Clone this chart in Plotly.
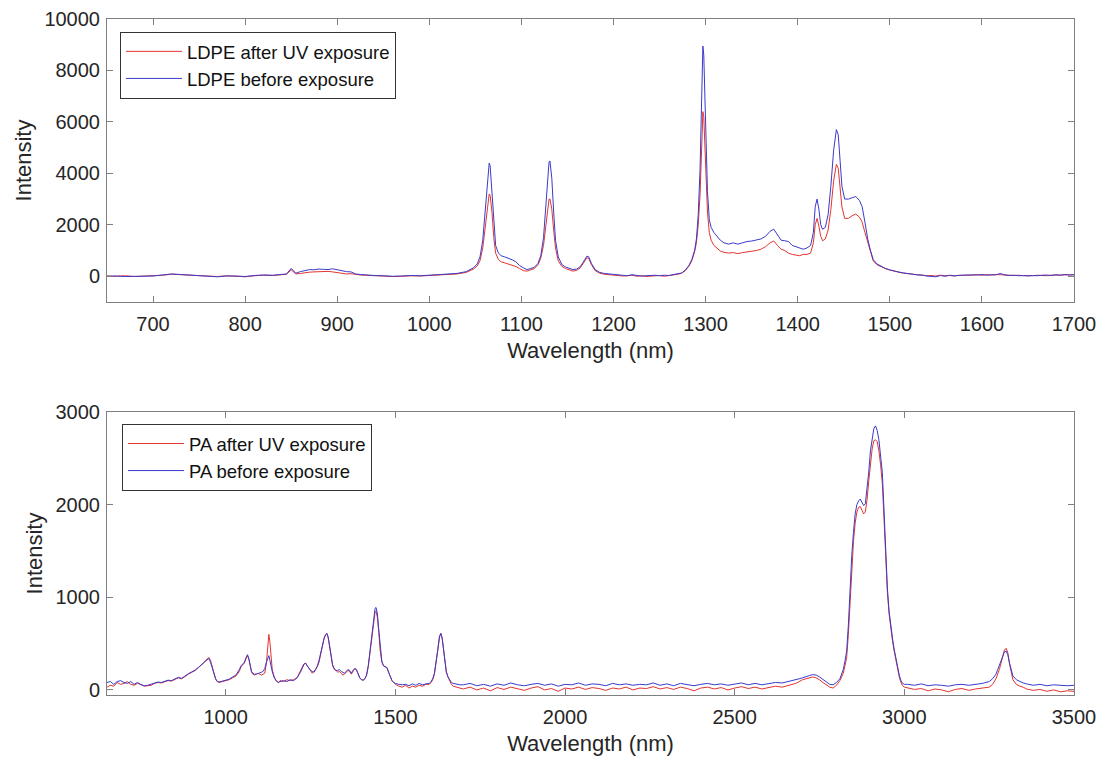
import plotly.graph_objects as go

# ---------------- LDPE (top panel) ----------------
ldpe_wl = [
    650, 660, 670, 680, 690, 700, 710, 720, 730, 740,
    750, 760, 770, 780, 790, 800, 810, 820, 830, 840,
    845, 850, 855, 860, 865, 870, 875, 880, 885, 890,
    895, 900, 905, 910, 915, 920, 925, 930, 935, 940,
    950, 960, 970, 980, 990, 1000, 1010, 1020, 1030, 1040,
    1044, 1048, 1052, 1055, 1058, 1060, 1062, 1064, 1065, 1066,
    1068, 1070, 1072, 1075, 1078, 1082, 1086, 1090, 1094, 1098,
    1102, 1106, 1110, 1114, 1118, 1121, 1124, 1126, 1128, 1130,
    1131, 1133, 1135, 1137, 1140, 1144, 1148, 1152, 1156, 1160,
    1164, 1168, 1171, 1173, 1176, 1180, 1185, 1190, 1195, 1200,
    1205, 1210, 1215, 1220, 1225, 1230, 1235, 1240, 1245, 1250,
    1255, 1260, 1265, 1270, 1274, 1278, 1282, 1285, 1288, 1290,
    1292, 1294, 1296, 1297, 1298, 1300, 1302, 1304, 1306, 1309,
    1312, 1316, 1320, 1325, 1330, 1335, 1340, 1345, 1350, 1355,
    1360, 1365, 1370, 1374, 1378, 1382, 1386, 1390, 1394, 1398,
    1402, 1406, 1410, 1414, 1417, 1419, 1421, 1423, 1425, 1427,
    1430, 1433, 1436, 1439, 1442, 1444, 1446, 1448, 1451, 1455,
    1459, 1463, 1467, 1470, 1473, 1476, 1479, 1482, 1486, 1490,
    1495, 1500, 1505, 1510, 1515, 1520, 1525, 1530, 1535, 1540,
    1545, 1550, 1555, 1560, 1565, 1570, 1575, 1580, 1585, 1590,
    1595, 1600, 1605, 1610, 1615, 1620, 1625, 1630, 1635, 1640,
    1645, 1650, 1655, 1660, 1665, 1670, 1675, 1680, 1685, 1690,
    1695, 1700,
]
ldpe_after = [
    10, 0, 20, -10, 5, 15, 40, 80, 60, 50,
    30, 10, -10, 20, 0, -20, 20, 40, 30, 60,
    80, 250, 90, 110, 140, 160, 170, 180, 170, 190,
    170, 150, 130, 90, 100, 60, 50, 40, 30, 20,
    10, -10, 0, 20, 10, 30, 40, 60, 90, 150,
    200, 280, 400, 600, 1100, 1700, 2500, 3100, 3200, 3150,
    2500, 1500, 900, 650, 560, 520, 480, 430, 380, 300,
    220, 200, 250, 300, 450, 700, 1200, 1800, 2500, 3000,
    3000, 2600, 1800, 1100, 600, 380, 300, 250, 200, 230,
    330, 550, 720, 700, 450, 220, 120, 80, 60, 50,
    30, 10, 20, 40, 0, 20, -10, 10, 20, 30,
    0, 20, 50, 80, 120, 220, 400, 600, 950, 1300,
    2000, 3200, 5300, 6400, 6200, 4500, 2500, 1700, 1400, 1200,
    1100, 980, 930, 900, 920, 880, 920, 950, 960, 1000,
    1050, 1150, 1300, 1370, 1200, 1050, 1000, 900, 850, 820,
    800, 850, 850, 900, 1300, 2000, 2250, 1950, 1550, 1380,
    1450, 1800, 2600, 3700, 4350, 4200, 3500, 2700, 2250, 2250,
    2350, 2420, 2300, 2100, 1700, 1300, 900, 600, 450, 380,
    300, 240, 200, 150, 120, 100, 70, 60, 40, 20,
    30, 10, 40, 20, 30, 10, 40, 30, 50, 40,
    60, 40, 60, 50, 70, 60, 40, 50, 30, 40,
    20, 30, 20, 40, 30, 20, 40, 50, 60, 50,
    70, 60,
]
ldpe_before = [
    0, 10, -10, 0, 20, 10, 50, 90, 70, 40,
    20, 0, -20, 10, 10, -10, 30, 50, 40, 70,
    90, 310, 120, 180, 230, 260, 250, 280, 270, 260,
    290, 250, 220, 180, 170, 90, 70, 50, 40, 30,
    20, 0, 10, 30, 20, 40, 50, 70, 110, 180,
    240, 330, 480, 750, 1400, 2300, 3400, 4200, 4400, 4300,
    3300, 2000, 1200, 900, 800, 750, 700, 640, 560, 420,
    330, 260, 300, 350, 500, 800, 1500, 2400, 3500, 4450,
    4480, 3800, 2500, 1400, 750, 450, 360, 300, 260, 280,
    380, 600, 780, 760, 500, 260, 150, 110, 90, 60,
    50, 40, 20, 60, 30, 10, 20, 30, 40, 20,
    40, 30, 60, 90, 130, 240, 430, 650, 1000, 1450,
    2400, 4200, 7500, 8950, 8600, 6000, 3300, 2200, 1900, 1700,
    1550, 1400, 1300, 1250, 1300, 1250, 1300, 1350, 1370, 1400,
    1450, 1550, 1750, 1830, 1600, 1400, 1380, 1350, 1200, 1150,
    1100, 1050, 1100, 1200, 1700, 2700, 3000, 2600, 2000, 1830,
    1900, 2400, 3500, 4900, 5700, 5500, 4500, 3500, 3000, 3000,
    3050, 3100, 2950, 2700, 2100, 1450, 1000, 650, 480, 390,
    310, 250, 200, 160, 130, 90, 80, 50, 50, 10,
    0, -20, 30, 0, 40, 20, 30, 50, 40, 60,
    50, 70, 40, 60, 50, 110, 50, 30, 40, 20,
    30, 10, 30, 20, 40, 50, 30, 60, 40, 70,
    50, 60,
]

# ---------------- PA (bottom panel) ----------------
pa_wl = [
    650, 660, 670, 680, 690, 700, 710, 720, 730, 740,
    750, 760, 770, 780, 790, 800, 810, 820, 830, 840,
    850, 860, 870, 880, 890, 900, 910, 920, 930, 940,
    945, 950, 955, 960, 965, 970, 975, 980, 990, 1000,
    1010, 1020, 1030, 1040, 1045, 1050, 1055, 1060, 1064, 1068,
    1072, 1076, 1080, 1085, 1090, 1095, 1100, 1105, 1110, 1115,
    1120, 1124, 1127, 1130, 1133, 1137, 1142, 1148, 1155, 1160,
    1170, 1180, 1190, 1200, 1210, 1220, 1230, 1235, 1240, 1245,
    1250, 1255, 1260, 1265, 1270, 1275, 1280, 1285, 1290, 1295,
    1298, 1302, 1306, 1310, 1315, 1320, 1325, 1330, 1335, 1340,
    1345, 1350, 1355, 1360, 1365, 1370, 1375, 1380, 1385, 1390,
    1395, 1400, 1405, 1410, 1415, 1420, 1425, 1430, 1435, 1440,
    1443, 1447, 1451, 1455, 1460, 1465, 1470, 1475, 1480, 1485,
    1490, 1495, 1500, 1510, 1520, 1530, 1540, 1550, 1560, 1570,
    1580, 1590, 1600, 1605, 1610, 1615, 1620, 1625, 1630, 1634,
    1638, 1642, 1646, 1650, 1655, 1660, 1665, 1670, 1680, 1690,
    1700, 1720, 1740, 1760, 1780, 1800, 1820, 1840, 1860, 1880,
    1900, 1920, 1940, 1960, 1980, 2000, 2020, 2040, 2060, 2080,
    2100, 2120, 2140, 2160, 2180, 2200, 2220, 2240, 2260, 2280,
    2300, 2320, 2340, 2360, 2380, 2400, 2420, 2440, 2460, 2480,
    2500, 2520, 2540, 2560, 2580, 2600, 2620, 2640, 2660, 2680,
    2690, 2700, 2710, 2720, 2730, 2740, 2750, 2760, 2770, 2780,
    2790, 2800, 2810, 2820, 2825, 2830, 2835, 2840, 2845, 2850,
    2855, 2860, 2865, 2870, 2875, 2880, 2885, 2890, 2895, 2900,
    2905, 2910, 2915, 2920, 2925, 2930, 2935, 2940, 2945, 2950,
    2955, 2960, 2965, 2970, 2975, 2980, 2985, 2990, 2995, 3000,
    3010, 3030, 3050, 3070, 3090, 3110, 3130, 3150, 3170, 3190,
    3210, 3230, 3250, 3260, 3270, 3280, 3290, 3295, 3300, 3305,
    3310, 3315, 3320, 3330, 3340, 3350, 3360, 3380, 3400, 3420,
    3440, 3460, 3480, 3500,
]
pa_after = [
    30, 50, 40, 80, 60, 70, 90, 60, 50, 70,
    60, 40, 45, 50, 70, 80, 75, 90, 100, 95,
    110, 130, 120, 150, 170, 190, 210, 240, 280, 320,
    340, 350, 320, 250, 170, 120, 90, 80, 90, 100,
    110, 130, 150, 200, 250, 270, 290, 340, 370, 330,
    250, 190, 170, 160, 170, 180, 170, 160, 170, 180,
    300, 500, 600, 520, 350, 220, 150, 100, 80, 100,
    90, 110, 100, 110, 130, 200, 280, 290, 260, 230,
    210, 180, 200, 220, 250, 300, 380, 470, 560, 600,
    610, 560, 460, 350, 260, 220, 210, 190, 200, 180,
    160, 170, 190, 210, 200, 170, 200, 230, 220, 170,
    130, 110, 105, 120, 160, 250, 400, 580, 740, 840,
    850, 780, 620, 430, 300, 260, 250, 240, 190, 140,
    100, 80, 60, 40, 30, 50, 20, 40, 30, 50,
    40, 60, 60, 80, 110, 170, 280, 430, 570, 610,
    560, 440, 300, 200, 140, 90, 60, 40, 30, 20,
    10, 30, 0, 20, -10, 25, 5, 30, 10, -5,
    20, 35, 0, 15, -15, 20, 10, 30, 5, 25,
    15, -5, 20, 10, 30, 0, 20, 15, 35, 10,
    25, 5, 30, 15, -10, 20, 30, 10, 25, 0,
    20, 35, 15, 30, 10, 25, 40, 30, 50, 70,
    90, 110, 120, 130, 140, 130, 110, 80, 50, 30,
    20, 50, 100, 180, 260, 350, 600, 950, 1300, 1600,
    1800, 1920, 1970, 1980, 1940, 1900, 1920, 2050, 2250, 2450,
    2600, 2690, 2700, 2680, 2580, 2430, 2230, 1850, 1420, 1050,
    820, 650, 530, 420, 320, 220, 140, 80, 45, 30,
    20, 5, 15, -10, 10, 0, -20, 5, 15, -5,
    10, 20, 30, 60, 120, 220, 350, 430, 450, 400,
    280, 180, 110, 60, 40, 30, 10, -5, 5, -15,
    0, -20, -10, -15,
]
pa_before = [
    80, 90, 60, 90, 100, 80, 70, 90, 60, 80,
    55, 45, 50, 60, 75, 85, 80, 95, 105, 100,
    115, 135, 125, 155, 175, 195, 215, 245, 275, 310,
    330, 340, 300, 240, 170, 120, 90, 85, 95, 105,
    115, 140, 160, 220, 260, 280, 300, 350, 380, 340,
    260, 200, 180, 170, 170, 175, 180, 190, 200, 230,
    300, 350, 370, 320, 250, 200, 140, 100, 80, 90,
    100, 90, 110, 100, 130, 190, 270, 290, 260, 230,
    210, 200, 190, 220, 260, 320, 400, 480, 560, 600,
    610, 570, 470, 360, 270, 230, 210, 210, 220, 200,
    190, 180, 200, 220, 210, 180, 210, 230, 220, 170,
    130, 110, 105, 120, 160, 260, 420, 610, 780, 880,
    890, 820, 650, 460, 310, 260, 250, 240, 190, 140,
    100, 80, 70, 60, 55, 60, 45, 65, 50, 70,
    55, 65, 70, 90, 120, 180, 290, 440, 580, 610,
    550, 420, 280, 190, 140, 110, 80, 70, 60, 55,
    55, 70, 45, 60, 40, 65, 50, 75, 55, 45,
    60, 70, 50, 65, 40, 60, 55, 75, 50, 65,
    60, 45, 70, 55, 65, 50, 60, 55, 75, 50,
    65, 45, 70, 60, 45, 60, 70, 55, 65, 50,
    60, 75, 55, 70, 55, 65, 80, 75, 90, 110,
    120, 130, 145, 155, 165, 160, 140, 110, 80, 60,
    55, 80, 120, 220, 310, 420, 700, 1100, 1450, 1700,
    1900, 2000, 2040, 2060, 2030, 1990, 2010, 2150, 2350, 2580,
    2720, 2820, 2850, 2800, 2700, 2550, 2350, 1950, 1500, 1100,
    850, 680, 560, 440, 340, 240, 160, 100, 70, 60,
    60, 50, 65, 45, 55, 50, 40, 55, 60, 50,
    60, 70, 90, 120, 170, 260, 370, 410, 420, 380,
    290, 210, 150, 110, 90, 75, 65, 50, 60, 45,
    55, 50, 45, 50,
]

top_xticks = [700, 800, 900, 1000, 1100, 1200, 1300, 1400, 1500, 1600, 1700]
top_yticks = [0, 2000, 4000, 6000, 8000, 10000]
bot_xticks = [1000, 1500, 2000, 2500, 3000, 3500]
bot_yticks = [0, 1000, 2000, 3000]

assert len(ldpe_wl) == len(ldpe_after) == len(ldpe_before)
assert len(pa_wl) == len(pa_after) == len(pa_before)

RED = '#e3342f'
BLUE = '#3a3acb'
FONT = 'Liberation Sans, Arial, Helvetica, sans-serif'
TXT = '#262626'
FRAME = '#7f7f7f'

fig = go.Figure()
fig.add_trace(go.Scatter(x=ldpe_wl, y=ldpe_after, mode='lines', name='LDPE after UV exposure',
                         line=dict(color=RED, width=1), xaxis='x', yaxis='y', legend='legend'))
fig.add_trace(go.Scatter(x=ldpe_wl, y=ldpe_before, mode='lines', name='LDPE before exposure',
                         line=dict(color=BLUE, width=1), xaxis='x', yaxis='y', legend='legend'))
fig.add_trace(go.Scatter(x=pa_wl, y=pa_after, mode='lines', name='PA after UV exposure',
                         line=dict(color=RED, width=1), xaxis='x2', yaxis='y2', legend='legend2'))
fig.add_trace(go.Scatter(x=pa_wl, y=pa_before, mode='lines', name='PA before exposure',
                         line=dict(color=BLUE, width=1), xaxis='x2', yaxis='y2', legend='legend2'))

ax = dict(showline=True, linecolor=FRAME, linewidth=1, mirror='ticks', ticks='inside',
          ticklen=6, tickcolor=FRAME, tickwidth=1, showgrid=False, zeroline=False,
          automargin=False,
          tickfont=dict(size=20, color=TXT, family=FONT),
          title_font=dict(size=22, color=TXT, family=FONT))

fig.update_layout(
    width=1103, height=763,
    margin=dict(l=107, r=29, t=19, b=68),
    paper_bgcolor='white', plot_bgcolor='white',
    font=dict(family=FONT, color=TXT),
    xaxis=dict(ax, domain=[0, 1], anchor='y', range=[650, 1700], tickvals=top_xticks,
               ticktext=[str(v) for v in top_xticks],
               ticklabelstandoff=4, title=dict(text='Wavelength (nm)', standoff=8)),
    yaxis=dict(ax, domain=[0.58136, 1], anchor='x', range=[-1000, 10000], tickvals=top_yticks,
               ticktext=[str(v) for v in top_yticks],
               ticklabelstandoff=2, title=dict(text='Intensity', standoff=6)),
    xaxis2=dict(ax, domain=[0, 1], anchor='y2', range=[650, 3500], tickvals=bot_xticks,
                ticktext=[str(v) for v in bot_xticks],
                ticklabelstandoff=4, title=dict(text='Wavelength (nm)', standoff=8)),
    yaxis2=dict(ax, domain=[0, 0.41864], anchor='x2', range=[-55, 3000], tickvals=bot_yticks,
                ticktext=[str(v) for v in bot_yticks],
                ticklabelstandoff=2, title=dict(text='Intensity', standoff=6)),
    legend=dict(x=0.0134, y=0.981, xanchor='left', yanchor='top', bgcolor='white',
                bordercolor='#333333', borderwidth=1, font=dict(size=18.5, color='#111', family=FONT),
                itemwidth=56, tracegroupgap=0),
    legend2=dict(x=0.0155, y=0.4009, xanchor='left', yanchor='top', bgcolor='white',
                 bordercolor='#333333', borderwidth=1, font=dict(size=18.5, color='#111', family=FONT),
                 itemwidth=56, tracegroupgap=0),
    showlegend=True,
)

fig.write_html('out.html', config={'displayModeBar': False},
               post_script="document.body.style.margin='0';document.body.style.overflow='hidden';")
